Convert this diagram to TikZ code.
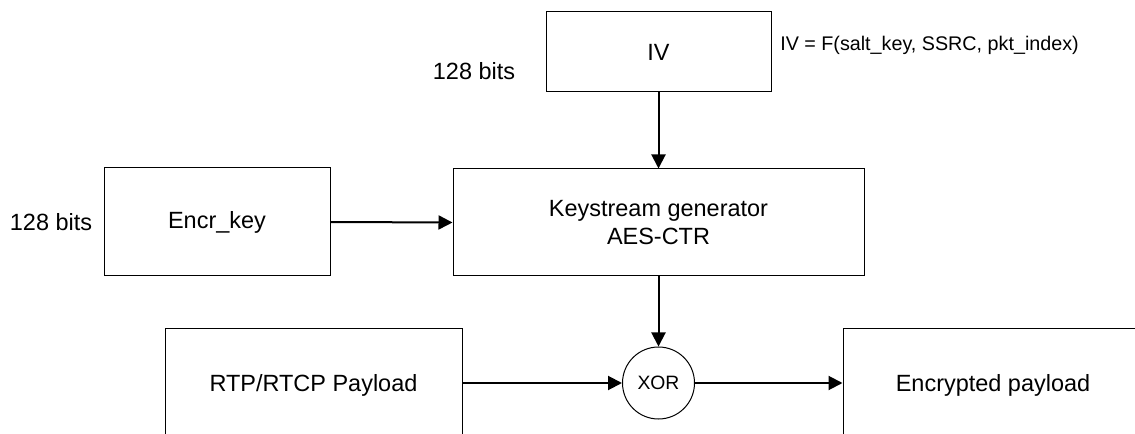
\documentclass[tikz,border=0pt]{standalone}
\usepackage{fontspec}
\setmainfont{Liberation Sans}
\usetikzlibrary{arrows.meta}

\tikzset{
  block/.style={draw=black, line width=0.75pt, fill=white, inner sep=0pt,
                font=\fontsize{17.6}{21}\selectfont, align=center},
  xorop/.style={draw=black, line width=0.75pt, circle, inner sep=0pt,
                minimum size=54pt, font=\fontsize{14.5}{17}\selectfont},
  note/.style={font=\fontsize{17.6}{21}\selectfont, inner sep=0pt},
  formula/.style={font=\fontsize{14.8}{18}\selectfont, inner sep=0pt, anchor=west},
  flow/.style={line width=1.5pt, -{Triangle[length=10.5pt,width=10.5pt]}}
}

\begin{document}
\begin{tikzpicture}[x=0.75pt, y=-0.75pt]
  \clip (0,0) rectangle (1135,434);
  \fill[white] (0,0) rectangle (1135,434);

  % blocks
  \node[block, minimum width=168.75pt, minimum height=60pt] (iv) at (658.5,52) {IV};
  \node[block, minimum width=169.5pt, minimum height=81pt] (key) at (217,222) {Encr\_key};
  \node[block, minimum width=308.25pt, minimum height=80.25pt] (gen) at (658.5,222.5)
       {Keystream generator\\AES-CTR};
  \node[xorop] (xor) at (658.5,383) {XOR};
  \node[block, minimum width=222.75pt, minimum height=84pt] (pay) at (313.5,385) {RTP/RTCP Payload};
  \node[block, minimum width=225pt, minimum height=84pt] (enc) at (993,385) {Encrypted payload};

  % annotations
  \node[note] (ivbits) at (474,71) {128 bits};
  \node[note] (keybits) at (51,222) {128 bits};
  \node[formula] (ivdef) at (780,45) {IV = F(salt\_key, SSRC, pkt\_index)};

  % data flow
  \draw[flow] (iv.south) -- (gen.north);
  \draw[flow] (key.east) -- (gen.west);
  \draw[flow] (gen.south) -- (xor.north);
  \draw[flow] (pay.east |- xor.west) -- (xor.west);
  \draw[flow] (xor.east) -- (enc.west |- xor.east);
\end{tikzpicture}
\end{document}
